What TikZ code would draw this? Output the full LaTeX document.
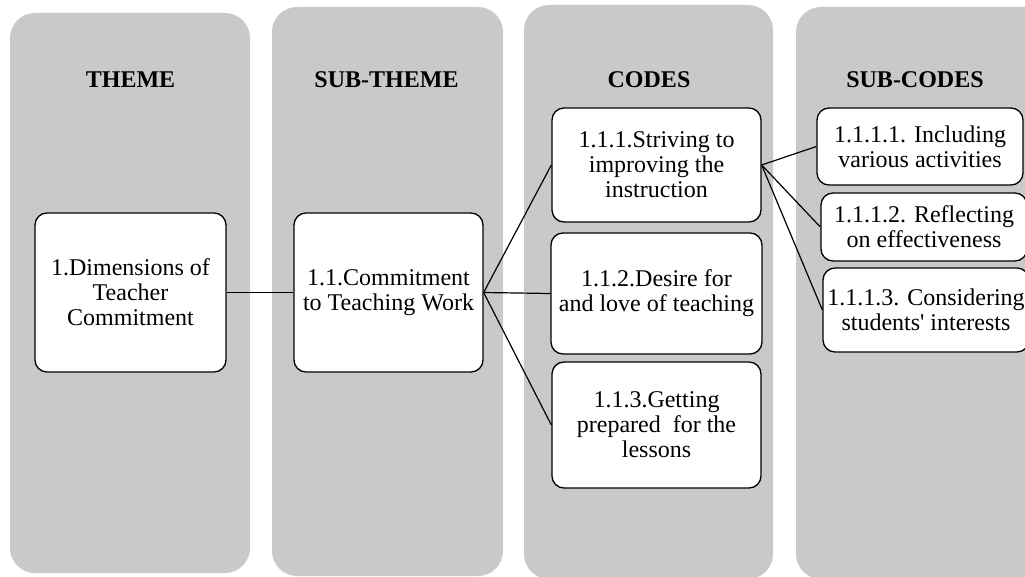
\documentclass[tikz,border=0pt]{standalone}
\usepackage{fontspec}
\setmainfont{Liberation Serif}[Ligatures=TeXOff]
\usepackage{tikz}
\definecolor{lanegray}{RGB}{201,201,201}
\tikzset{
    lane/.style={fill=lanegray,rounded corners=25pt},
    head/.style={font=\fontsize{24}{25}\selectfont\bfseries,anchor=base},
    item/.style={draw,fill=white,line width=1.3pt,rounded corners=12pt,
        align=center,inner sep=2pt,font=\fontsize{24}{25}\selectfont},
    link/.style={line width=1.2pt}
}

\begin{document}
\begin{tikzpicture}[x=1pt,y=-1pt]
        \useasboundingbox (0,0) rectangle (1025,577);
        \clip (0,0) rectangle (1025,577);

        \fill[lane] (10,13) rectangle (250,573);
        \fill[lane] (272,7) rectangle (503,576);
        \fill[lane] (524,5) rectangle (773,579);
        \fill[lane] (796,7) rectangle (1060,579);

        \draw (130.5,88) node[head](h1){THEME};
        \draw (386.5,88) node[head](h2){SUB-THEME};
        \draw (649,88) node[head](h3){CODES};
        \draw (915,88) node[head](h4){SUB-CODES};

        \draw (130.5,292.5) node[item,minimum width=191pt,minimum height=159pt](th){1.Dimensions of\\Teacher\\Commitment};
        \draw (388.5,292.5) node[item,minimum width=189pt,minimum height=159pt](st){1.1.Commitment\\to Teaching Work};

        \draw (656.5,165) node[item,minimum width=209pt,minimum height=114pt](c1){1.1.1.Striving to\\improving the\\instruction};
        \draw (656.5,293.5) node[item,minimum width=211pt,minimum height=121pt](c2){1.1.2.Desire for\\and love of teaching};
        \draw (656.5,425) node[item,minimum width=209pt,minimum height=126pt](c3){1.1.3.Getting\\prepared\ \ for the\\lessons};

        \draw (920,146.5) node[item,minimum width=206pt,minimum height=77pt](s1){1.1.1.1. Including\\various activities};
        \draw (924,227) node[item,minimum width=206pt,minimum height=68pt](s2){1.1.1.2. Reflecting\\on effectiveness};
        \draw (926,310) node[item,minimum width=206pt,minimum height=84pt](s3){1.1.1.3. Considering\\students' interests};

        \draw[link] (th) -- (st);
        \draw[link] (st.east) -- (c1.west);
        \draw[link] (st.east) -- (c2.west);
        \draw[link] (st.east) -- (c3.west);
        \draw[link] (c1.east) -- (s1.west);
        \draw[link] (c1.east) -- (s2.west);
        \draw[link] (c1.east) -- (s3.west);
    \end{tikzpicture}
\end{document}
